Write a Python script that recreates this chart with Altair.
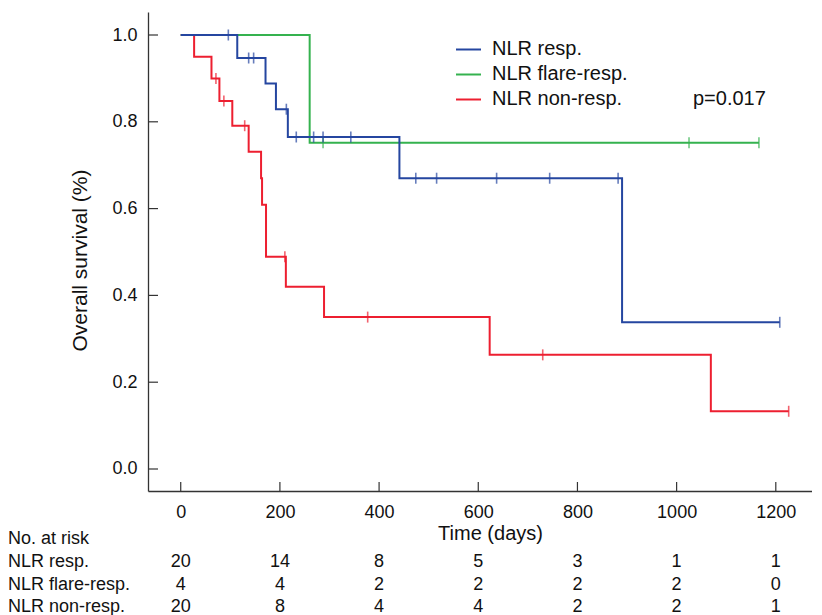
import altair as alt
import pandas as pd

FONT = "Liberation Sans"

groups = ["NLR resp.", "NLR flare-resp.", "NLR non-resp."]
colors = ["#2546a0", "#35b24f", "#ed1f30"]

# Kaplan-Meier step points (time in days, survival)
resp_t = [0, 114, 171, 192, 216, 441, 890, 1208]
resp_s = [1.0, 0.947, 0.888, 0.829, 0.765, 0.670, 0.338, 0.338]
flare_t = [0, 260, 1166]
flare_s = [1.0, 0.752, 0.752]
non_t = [0, 27, 62, 78, 104, 137, 162, 164, 172, 212, 289, 623, 1069, 1226]
non_s = [1.0, 0.95, 0.90, 0.848, 0.791, 0.731, 0.670, 0.609, 0.489, 0.420, 0.350, 0.263, 0.133, 0.133]

# censored observations
resp_ct = [96, 137, 147, 213, 233, 268, 287, 343, 474, 516, 637, 744, 882, 1208]
resp_cs = [1.0, 0.947, 0.947, 0.829, 0.765, 0.765, 0.765, 0.765, 0.670, 0.670, 0.670, 0.670, 0.670, 0.338]
flare_ct = [287, 1025, 1166]
flare_cs = [0.752, 0.752, 0.752]
non_ct = [71, 87, 129, 210, 377, 730, 1226]
non_cs = [0.90, 0.848, 0.791, 0.489, 0.350, 0.263, 0.133]

# number at risk
risk_times = [0, 200, 400, 600, 800, 1000, 1200]
risk_resp = [20, 14, 8, 5, 3, 1, 1]
risk_flare = [4, 4, 2, 2, 2, 2, 0]
risk_non = [20, 8, 4, 4, 2, 2, 1]

x_ticks = [0, 200, 400, 600, 800, 1000, 1200]
y_ticks = [0.0, 0.2, 0.4, 0.6, 0.8, 1.0]
p_text = "p=0.017"

W, H = 664, 479

steps = pd.concat([
    pd.DataFrame({"t": resp_t, "s": resp_s, "g": groups[0]}),
    pd.DataFrame({"t": flare_t, "s": flare_s, "g": groups[1]}),
    pd.DataFrame({"t": non_t, "s": non_s, "g": groups[2]}),
])
cens = pd.concat([
    pd.DataFrame({"t": resp_ct, "s": resp_cs, "g": groups[0]}),
    pd.DataFrame({"t": flare_ct, "s": flare_cs, "g": groups[1]}),
    pd.DataFrame({"t": non_ct, "s": non_cs, "g": groups[2]}),
])

xscale = alt.Scale(domain=[-66, 1273], nice=False, zero=False)
yscale = alt.Scale(domain=[-0.0507, 1.053], nice=False, zero=False)
cscale = alt.Scale(domain=groups, range=colors)

xaxis = alt.Axis(values=x_ticks, format="d", title="Time (days)", ticks=False, grid=False,
                 labelFontSize=18, labelFont=FONT, labelColor="#111",
                 labelBaseline="alphabetic", labelPadding=26, labelFlush=False,
                 titleFont=FONT, titleFontSize=20, titleFontWeight="normal",
                 titleColor="#111", titleX=342, titleY=48,
                 titleBaseline="alphabetic", titleAlign="center",
                 domainColor="#333", domainWidth=1.3)
yaxis = alt.Axis(values=y_ticks, title="Overall survival (%)", format=".1f",
                 ticks=False, grid=False,
                 labelFontSize=18, labelFont=FONT, labelColor="#111",
                 labelPadding=11,
                 titleFont=FONT, titleFontSize=21, titleFontWeight="normal",
                 titleColor="#111", titleX=-68, titleY=248, titleAngle=270,
                 titleBaseline="middle", titleAlign="center",
                 domainColor="#333", domainWidth=1.3)

layers = []
# axes carrier
layers.append(
    alt.Chart(steps).mark_line(opacity=0).encode(
        x=alt.X("t:Q", scale=xscale, axis=xaxis),
        y=alt.Y("s:Q", scale=yscale, axis=yaxis),
    )
)
# inward ticks
layers.append(
    alt.Chart(pd.DataFrame({"t": x_ticks})).mark_rule(color="#333", strokeWidth=1.2).encode(
        x=alt.X("t:Q", scale=xscale), y=alt.value(H), y2=alt.value(H - 9)
    )
)
layers.append(
    alt.Chart(pd.DataFrame({"v": y_ticks})).mark_rule(color="#333", strokeWidth=1.2).encode(
        y=alt.Y("v:Q", scale=yscale), x=alt.value(0), x2=alt.value(10)
    )
)
# curves, drawn red, green, blue (blue on top)
for g in [groups[2], groups[1], groups[0]]:
    layers.append(
        alt.Chart(steps[steps.g == g]).mark_line(interpolate="step-after", strokeWidth=2).encode(
            x=alt.X("t:Q", scale=xscale),
            y=alt.Y("s:Q", scale=yscale),
            color=alt.Color("g:N", scale=cscale, legend=None),
        )
    )
    layers.append(
        alt.Chart(cens[cens.g == g]).mark_tick(orient="vertical", size=11, thickness=1.6).encode(
            x=alt.X("t:Q", scale=xscale),
            y=alt.Y("s:Q", scale=yscale),
            color=alt.Color("g:N", scale=cscale, legend=None),
        )
    )

# custom legend
leg_base = [43, 68, 93]
for i, g in enumerate(groups):
    layers.append(
        alt.Chart(pd.DataFrame({"g": [g]})).mark_rule(strokeWidth=2).encode(
            x=alt.value(308), x2=alt.value(333), y=alt.value(leg_base[i] - 5.5),
            color=alt.Color("g:N", scale=cscale, legend=None),
        )
    )
    layers.append(
        alt.Chart(pd.DataFrame({"g": [g]})).mark_text(
            align="left", baseline="alphabetic", font=FONT, fontSize=20, color="#111"
        ).encode(x=alt.value(344), y=alt.value(leg_base[i]), text="g:N")
    )
layers.append(
    alt.Chart(pd.DataFrame({"p": [p_text]})).mark_text(
        align="left", baseline="alphabetic", font=FONT, fontSize=20, color="#111"
    ).encode(x=alt.value(545), y=alt.value(93), text="p:N")
)

# number at risk table
layers.append(
    alt.Chart(pd.DataFrame({"l": ["No. at risk"]})).mark_text(
        align="left", baseline="alphabetic", font=FONT, fontSize=18, color="#111"
    ).encode(x=alt.value(-140), y=alt.value(532), text="l:N")
)
row_base = [555, 578, 600]
for i, (g, counts) in enumerate(zip(groups, [risk_resp, risk_flare, risk_non])):
    layers.append(
        alt.Chart(pd.DataFrame({"g": [g]})).mark_text(
            align="left", baseline="alphabetic", font=FONT, fontSize=18, color="#111"
        ).encode(x=alt.value(-140), y=alt.value(row_base[i]), text="g:N")
    )
    layers.append(
        alt.Chart(pd.DataFrame({"t": risk_times, "n": counts})).mark_text(
            align="center", baseline="alphabetic", font=FONT, fontSize=18, color="#111"
        ).encode(x=alt.X("t:Q", scale=xscale), y=alt.value(row_base[i]), text="n:Q")
    )

chart = alt.layer(*layers).properties(
    width=W, height=H,
    padding={"left": 0, "top": 4, "right": 0, "bottom": 0},
).configure_view(stroke=None)

chart.save("out.html", embed_options={"renderer": "svg", "actions": False})
